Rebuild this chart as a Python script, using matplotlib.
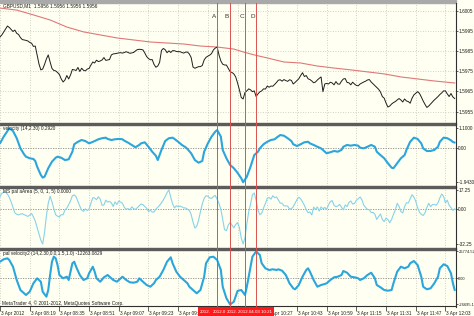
import matplotlib
matplotlib.use("Agg")
import matplotlib.pyplot as plt
import matplotlib.transforms as mtransforms
from matplotlib.patches import Rectangle
from matplotlib.lines import Line2D
import numpy as np

plt.rcParams['font.family'] = ['Liberation Sans', 'DejaVu Sans']

# ---------------- data ----------------
tick_bars = [0, 16, 32, 48, 64, 80, 96, 112, 128, 144, 160, 176, 192, 208, 224, 240]
# labels at 112 and 128 lie fully under the red time tags in the reference
tick_labels = ["3 Apr 2012", "3 Apr 08:19", "3 Apr 08:35", "3 Apr 08:51", "3 Apr 09:07",
               "3 Apr 09:23", "3 Apr 09:39", "", "", "3 Apr 10:27",
               "3 Apr 10:43", "3 Apr 10:59", "3 Apr 11:15", "3 Apr 11:31", "3 Apr 11:47",
               "3 Apr 12:03"]

price = [
    1.59920, 1.59930, 1.59945, 1.59959, 1.59974, 1.59967, 1.59957, 1.59947, 1.59954, 1.59938,
    1.59932, 1.59917, 1.59907, 1.59905, 1.59903, 1.59900, 1.59893, 1.59889, 1.59873, 1.59875,
    1.59831, 1.59786, 1.59757, 1.59761, 1.59784, 1.59811, 1.59831, 1.59796, 1.59764, 1.59754,
    1.59752, 1.59744, 1.59734, 1.59712, 1.59697, 1.59707, 1.59729, 1.59712, 1.59732, 1.59759,
    1.59757, 1.59754, 1.59769, 1.59749, 1.59765, 1.59755, 1.59752, 1.59761, 1.59764, 1.59781,
    1.59796, 1.59791, 1.59805, 1.59798, 1.59801, 1.59806, 1.59818, 1.59804, 1.59806, 1.59808,
    1.59831, 1.59836, 1.59837, 1.59839, 1.59841, 1.59842, 1.59840, 1.59843, 1.59847, 1.59843,
    1.59839, 1.59841, 1.59843, 1.59851, 1.59857, 1.59859, 1.59858, 1.59856, 1.59841, 1.59823,
    1.59813, 1.59807, 1.59808, 1.59784, 1.59770, 1.59776, 1.59794, 1.59853, 1.59863, 1.59857,
    1.59842, 1.59851, 1.59843, 1.59852, 1.59852, 1.59848, 1.59847, 1.59847, 1.59843, 1.59840,
    1.59845, 1.59845, 1.59836, 1.59818, 1.59771, 1.59765, 1.59769, 1.59773, 1.59773, 1.59779,
    1.59806, 1.59819, 1.59825, 1.59830, 1.59838, 1.59856, 1.59865, 1.59870, 1.59831, 1.59801,
    1.59785, 1.59781, 1.59781, 1.59765, 1.59748, 1.59744, 1.59737, 1.59722, 1.59692, 1.59658,
    1.59620, 1.59613, 1.59645, 1.59653, 1.59663, 1.59658, 1.59649, 1.59653, 1.59625, 1.59638,
    1.59648, 1.59653, 1.59663, 1.59662, 1.59677, 1.59671, 1.59677, 1.59676, 1.59685, 1.59695,
    1.59706, 1.59708, 1.59701, 1.59709, 1.59704, 1.59700, 1.59708, 1.59705, 1.59687, 1.59695,
    1.59704, 1.59713, 1.59729, 1.59743, 1.59724, 1.59729, 1.59713, 1.59709, 1.59702, 1.59693,
    1.59697, 1.59707, 1.59715, 1.59722, 1.59649, 1.59687, 1.59690, 1.59687, 1.59696, 1.59692,
    1.59683, 1.59699, 1.59687, 1.59686, 1.59701, 1.59712, 1.59714, 1.59695, 1.59693, 1.59683,
    1.59696, 1.59687, 1.59680, 1.59678, 1.59687, 1.59692, 1.59697, 1.59701, 1.59707, 1.59709,
    1.59697, 1.59688, 1.59679, 1.59670, 1.59661, 1.59648, 1.59625, 1.59617, 1.59593, 1.59573,
    1.59578, 1.59588, 1.59595, 1.59600, 1.59608, 1.59615, 1.59608, 1.59598, 1.59613, 1.59603,
    1.59600, 1.59592, 1.59616, 1.59633, 1.59641, 1.59649, 1.59641, 1.59623, 1.59603, 1.59586,
    1.59571, 1.59578, 1.59588, 1.59598, 1.59608, 1.59616, 1.59625, 1.59635, 1.59643, 1.59653,
    1.59653, 1.59638, 1.59625, 1.59640, 1.59623, 1.59615,
]

ma_bars = [0, 9, 18, 27, 36, 45, 54, 63, 72, 81, 90, 99, 108, 117, 126, 131, 137, 144,
           153, 162, 171, 180, 189, 198, 207, 216, 225, 234, 245]
ma_vals = [1.60063, 1.60053, 1.60029, 1.60004, 1.59969, 1.59945, 1.59930, 1.59915, 1.59905,
           1.59895, 1.59890, 1.59885, 1.59875, 1.59870, 1.59860, 1.59846, 1.59831, 1.59816,
           1.59796, 1.59791, 1.59776, 1.59766, 1.59757, 1.59747, 1.59737, 1.59722, 1.59712,
           1.59702, 1.59692]
price_ticks = [1.6005, 1.5995, 1.5985, 1.5975, 1.5965, 1.5955]

vel_bars = [0, 2, 4, 5, 7, 9, 11, 13, 14, 16,
            18, 19, 20, 22, 23, 24, 26, 28, 30, 31,
            33, 35, 37, 39, 40, 42, 44, 46, 48, 49,
            51, 53, 55, 57, 58, 60, 62, 64, 66, 67,
            69, 71, 73, 75, 76, 78, 80, 82, 84, 85,
            87, 89, 91, 93, 94, 96, 98, 100, 101, 103,
            105, 107, 109, 110, 112, 114, 116, 117, 119, 120,
            122, 124, 126, 128, 130, 131, 133, 135, 137, 139,
            140, 142, 144, 146, 148, 149, 151, 153, 155, 157,
            158, 160, 162, 164, 166, 167, 169, 171, 173, 175,
            176, 178, 180, 182, 184, 185, 187, 189, 191, 193,
            194, 196, 198, 200, 202, 203, 205, 207, 209, 211,
            212, 214, 216, 218, 219, 221, 223, 225, 227, 228,
            230, 232, 234, 236, 237, 239, 241, 243, 244, 245]
vel_vals = [0.25, 0.63, 0.95, 1.10, 0.95, 0.54, -0.03, -0.37, -0.50, -0.59,
            -0.63, -0.74, -1.06, -1.53, -1.68, -1.63, -1.15, -0.78, -0.56, -0.50,
            -0.56, -0.69, -0.65, -0.22, 0.20, 0.34, 0.44, 0.38, 0.25, 0.29,
            0.38, 0.48, 0.54, 0.57, 0.50, 0.44, 0.48, 0.50, 0.48, 0.40,
            0.29, 0.16, 0.03, 0.16, 0.25, 0.31, 0.06, -0.22, -0.45, -0.69,
            -0.12, 0.38, 0.54, 0.57, 0.50, 0.34, 0.16, 0.03, -0.07, -0.31,
            -0.69, -0.84, -0.74, -0.22, 0.25, 0.63, 0.91, 1.00, 0.63, -0.12,
            -0.59, -0.97, -1.15, -1.41, -1.72, -1.943, -1.63, -1.06, -0.41, -0.22,
            -0.03, 0.20, 0.34, 0.44, 0.48, 0.57, 0.72, 0.68, 0.54, 0.38,
            0.20, 0.10, 0.20, 0.31, 0.34, 0.25, 0.16, 0.06, -0.03, -0.22,
            -0.31, -0.25, -0.18, -0.22, -0.12, 0.06, 0.16, 0.12, 0.16, 0.12,
            0.01, -0.03, 0.06, 0.16, 0.06, -0.22, -0.41, -0.59, -0.87, -1.12,
            -1.15, -0.87, -0.59, -0.41, -0.12, 0.34, 0.57, 0.50, 0.25, -0.03,
            -0.18, -0.18, -0.12, 0.06, 0.34, 0.57, 0.54, 0.42, 0.33, 0.292]

area_vals = [
    11.1, 14.3, 15.1, 15.2, 13.5, 10.5, 6.3, 1.3, -3.7, -5.0,
    -5.6, -4.8, -4.5, -5.3, -6.2, -7.0, -5.6, -4.3, -7.4, -11.3,
    -17.1, -23.2, -28.8, -32.25, -21.7, -6.6, 5.2, 11.5, 6.4, 0.0,
    -5.4, -6.8, -7.5, -5.3, -5.5, -1.1, 0.6, 3.8, 7.3, 12.0,
    12.7, 11.0, 6.8, 2.4, -1.1, -2.3, 0.0, -1.6, -0.3, 5.2,
    10.2, 9.9, 8.3, 11.0, 8.9, 3.1, 3.5, 8.0, 6.1, 6.8,
    5.5, 2.1, 6.3, 4.0, 7.2, 6.1, 5.0, 1.3, -0.4, 0.2,
    -1.0, 1.8, 0.1, -0.6, 1.0, 2.7, 4.4, 3.8, 2.1, 0.5,
    -2.5, -1.4, -3.0, -2.9, -0.3, 1.4, 3.1, 5.6, 8.1, 11.2,
    14.8, 17.25, 10.5, 4.5, 0.8, 2.8, 2.0, 2.5, 1.8, 0.8,
    0.8, -0.4, -1.4, -5.2, -12.2, -17.6, -16.0, -10.5, -2.7, 4.4,
    9.6, 12.0, 11.5, 9.9, 9.6, 11.2, 12.2, 8.7, 4.9, -0.5,
    -9.6, -19.2, -20.0, -14.9, -12.5, -14.9, -17.5, -14.4, -12.6, -17.3,
    -27.0, -32.25, -26.5, -13.9, -2.9, 4.3, 12.8, 14.5, 7.9, -1.3,
    -5.4, -4.2, 0.8, 4.8, 9.5, 10.4, 8.8, 12.0, 10.2, 10.9,
    8.0, 5.2, 5.1, 2.7, 2.7, 2.4, -0.2, 0.1, 1.8, 5.0,
    8.4, 10.6, 9.1, 6.4, 3.2, -0.9, -3.6, -2.9, -5.7, 1.5,
    -0.4, 1.7, -2.1, 1.7, 0.0, 1.2, -0.5, 3.5, 6.7, 7.5,
    3.2, 1.9, 2.6, 4.0, 1.5, -1.0, 3.5, 2.1, 5.7, 7.2,
    4.4, 4.9, 7.7, 9.2, 10.9, 8.3, 3.3, 1.2, -0.6, -0.9,
    -3.5, -3.2, -5.0, -9.8, -7.2, -4.7, -9.8, -11.7, -8.5, -9.8,
    -12.8, -9.8, -5.1, -1.1, 5.0, 2.4, -2.5, -3.8, 1.9, 5.5,
    5.3, 9.0, 12.9, 10.8, 7.0, 1.0, -3.0, -5.0, -6.1, -3.7,
    1.3, 5.0, 2.0, 3.8, 4.1, 3.2, 5.5, 10.0, 13.5, 11.4,
    5.4, 7.9, 3.2, 1.0, -1.5, 0.0,
]

vel2_bars = [0, 2, 4, 5, 7, 9, 11, 13, 14, 16,
             18, 20, 22, 23, 25, 26, 27, 28, 29, 30,
             31, 32, 34, 36, 37, 38, 39, 40, 41, 43,
             45, 47, 48, 49, 50, 51, 52, 54, 56, 58,
             59, 61, 63, 65, 66, 68, 70, 72, 74, 75,
             77, 79, 81, 83, 84, 86, 88, 90, 92, 93,
             95, 97, 99, 101, 102, 104, 106, 108, 110, 111,
             113, 115, 117, 119, 120, 122, 124, 126, 128, 130,
             132, 133, 135, 136, 138, 140, 141, 143, 145, 147,
             149, 150, 152, 154, 156, 158, 159, 161, 163, 165,
             166, 167, 169, 171, 173, 175, 176, 178, 180, 182,
             184, 185, 187, 189, 191, 193, 194, 196, 198, 200,
             202, 203, 205, 207, 209, 211, 212, 214, 216, 218,
             220, 221, 223, 225, 227, 228, 230, 232, 234, 236,
             237, 239, 241, 243, 244, 245]
vel2_vals = [16447, 18868, 19877, 18162, 11402, -2018, -12108, -15438, -17153, -13823,
             -5348, -303, -3733, -13823, -18868, -12108, 3027, 16447, 21492, 19877,
             13117, 3027, -303, 1312, -2018, 6357, 14832, 16447, 11402, 3027,
             -2018, -303, 4742, 8072, 11402, 6357, -303, -3733, 706, 3027,
             1312, -2018, -3733, -303, 1312, -2018, -4339, -4742, -3733, -303,
             -3733, -7063, -8778, -5348, -2018, 1312, 8072, 16447, 20886, 14832,
             6357, 1312, -2018, -5348, -8778, -12108, -15438, -12108, 1312, 14832,
             20886, 21492, 18162, 8072, -8778, -20483, -26695.1, -23913, -13000, -12108,
             -17153, -8778, 11402, 21492, 26774.52, 23207, 14832, 9787, 8072, 8778,
             8072, 8778, 7366, 3027, -5348, -10393, -11402, -7063, 1312, 8072,
             9787, 6357, -2018, -8778, -7063, -6055, -5348, -2018, 706, 1312,
             3027, 7063, 5348, 1312, 706, -303, -2018, -303, 3027, 5348,
             -303, -7063, -9384, -12108, -12814, -12108, -5348, 6357, 11402, 9787,
             11402, 14832, 17153, 13117, 1312, -8778, -11402, -10393, -5348, 1312,
             9787, 13823, 12108, 4742, -5000, -12263.0829]

marker_bars = [117, 124, 132, 138]
marker_names = ["A", "B", "C", "D"]
# visible part of each stacked red time tag (later tags cover earlier ones)
marker_tags = ["2012.", "2012.0", "2012.", "2012.04.03 10:21"]

# ---------------- style / layout ----------------
W, H = 474, 316
PLOT_W = 456
XMAX = 245.7
BG = '#fffff2'
GRID = '#c4c4b4'
FS = 3.4
SEP = '#5c5c5c'

fig = plt.figure(figsize=(W / 100, H / 100), dpi=100)
fig.patch.set_facecolor(BG)


def add_panel(top, bottom, fs=FS):
    ax = fig.add_axes([0, 1 - bottom / H, PLOT_W / W, (bottom - top) / H])
    ax.set_facecolor(BG)
    for s in ax.spines.values():
        s.set_visible(False)
    ax.set_xlim(0, XMAX)
    ax.set_xticks(tick_bars)
    ax.yaxis.tick_right()
    ax.tick_params(axis='y', direction='out', length=1.3, width=0.5, pad=0.4,
                   labelsize=fs, colors='#202020')
    ax.tick_params(axis='x', bottom=False, labelbottom=False)
    ax.grid(axis='x', color=GRID, lw=0.6, ls=(0, (1, 2)))
    ax.set_axisbelow(True)
    return ax


ax1 = add_panel(3, 123)
ax2 = add_panel(125, 186)
ax3 = add_panel(188, 248)
ax4 = add_panel(250, 306, fs=2.9)

# price panel
ax1.set_ylim(1.59494, 1.60088)
ax1.set_yticks(price_ticks)
ax1.set_yticklabels([f"{t:.4f}" for t in price_ticks])
ax1.grid(axis='y', color=GRID, lw=0.6, ls=(0, (1, 2)))
ax1.plot(ma_bars, ma_vals, color='#e07878', lw=0.8, zorder=3)
ax1.plot(np.arange(len(price)), price, color='#1e1e1e', lw=0.7, zorder=4)

# velocity panel
ax2.set_ylim(-2.152, 1.2845)
ax2.set_yticks([1.1, 0.0, -1.943])
ax2.set_yticklabels(["1.1000", "0.00", "-1.9430"])
ax2.axhline(0, color='#8a8a8a', lw=0.6, ls=(0, (1.5, 1.5)), zorder=2)
ax2.plot(vel_bars, vel_vals, color='#2aa6dd', lw=1.5, zorder=4, solid_capstyle='round')

# area panel
ax3.set_ylim(-35.93, 19.07)
ax3.set_yticks([17.25, 0.0, -32.25])
ax3.set_yticklabels(["17.25", "0.00", "-32.25"])
ax3.axhline(0, color='#8a8a8a', lw=0.6, ls=(0, (1.5, 1.5)), zorder=2)
ax3.plot(np.arange(len(area_vals)), area_vals, color='#86d3ea', lw=0.8, zorder=4)

# velocity2 panel
ax4.set_ylim(-28252, 28252)
ax4.set_yticks([26774.52, 0.0, -26695.1])
ax4.set_yticklabels(["26774.52", "0.00", "-26695.1"])
ax4.axhline(0, color='#8a8a8a', lw=0.6, ls=(0, (1.5, 1.5)), zorder=2)
ax4.plot(vel2_bars, vel2_vals, color='#2aa6dd', lw=1.5, zorder=4, solid_capstyle='round')
ax4.tick_params(axis='x', bottom=True, labelbottom=True, direction='out', length=3.5,
                width=0.5, pad=0.2, labelsize=FS, colors='#202020')
ax4.set_xticklabels(tick_labels)
for lbl in ax4.get_xticklabels():
    lbl.set_ha('left')
    lbl.set_transform(lbl.get_transform() + mtransforms.ScaledTranslation(1 / 100, 0, fig.dpi_scale_trans))

# separators, frame lines
for top in (123, 186, 248):
    fig.add_artist(Rectangle((0, 1 - (top + 2) / H), PLOT_W / W, 2 / H,
                             transform=fig.transFigure, color=SEP, zorder=5))
fig.add_artist(Rectangle((0, 1 - 2.5 / H), PLOT_W / W, 2.5 / H,
                         transform=fig.transFigure, color='#a9a9a9', zorder=5))
fig.add_artist(Line2D([PLOT_W / W] * 2, [1 - 306.5 / H, 1 - 2.5 / H],
                      transform=fig.transFigure, color='#303030', lw=0.8, zorder=6))
fig.add_artist(Line2D([0, PLOT_W / W], [1 - 306.3 / H] * 2,
                      transform=fig.transFigure, color='#303030', lw=0.8, zorder=6))

# vertical marker lines A-D with stacked red time tags
vtrans = mtransforms.blended_transform_factory(ax4.transData, fig.transFigure)
a1trans = mtransforms.blended_transform_factory(ax1.transData, ax1.transAxes)
TAG_W = 20.0      # tag width in bars
TAG_OFF = 10.2    # tag starts this many bars left of its line
for i, (b, name, tag) in enumerate(zip(marker_bars, marker_names, marker_tags)):
    fig.add_artist(Line2D([b, b], [1 - 307.5 / H, 1 - 2.5 / H], transform=vtrans,
                          color='#d9534f', lw=0.7, zorder=7))
    ax1.text(b - 0.6, 1 - 14 / 120, name, transform=a1trans,
             ha='right', va='center', fontsize=4.6, color='#333333', zorder=8)
    fig.add_artist(Rectangle((b - TAG_OFF, 1 - 316 / H), TAG_W, 8.6 / H, transform=vtrans,
                             facecolor='#ff1a1a', edgecolor='none', zorder=10 + 2 * i))
    fig.text(b - TAG_OFF + 0.6, 1 - 311.6 / H, tag, transform=vtrans, ha='left', va='center',
             fontsize=3.2, color='white', zorder=11 + 2 * i)

# panel titles


def ftext(x, y, s, **kw):
    fig.text(x / W, 1 - y / H, s, ha='left', va='center', fontsize=FS, color='#1a1a1a', zorder=9, **kw)


ftext(3, 5.5, "GBPUSD,M1  1.5956 1.5956 1.5956 1.5956")
ftext(3, 128.5, "velocity (14,2.30) 0.2920")
ftext(3, 191.5, "MS pal aArea (5, 0, 1, 5) 0.0000")
ftext(3, 253, "pal velocity2 (14,2.30,0.0,1.5,1.0) -12263.0829")
ftext(2, 303, "MetaTrader 4, \u00a9 2001-2012, MetaQuotes Software Corp.")

fig.savefig("out.png", dpi=100, facecolor=BG)
